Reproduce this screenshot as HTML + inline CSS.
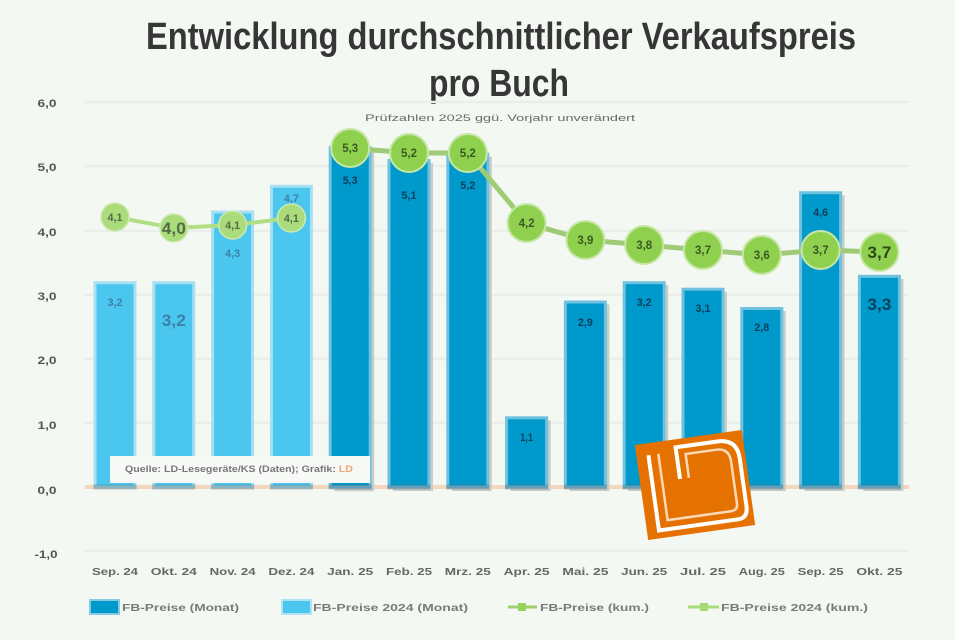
<!DOCTYPE html>
<html><head><meta charset="utf-8"><style>
html,body{margin:0;padding:0;background:#f4f8f3;}
svg{display:block;}
text{font-family:"Liberation Sans",sans-serif;}
</style></head><body>
<svg width="955" height="640" viewBox="0 0 955 640" xmlns="http://www.w3.org/2000/svg">
<rect width="955" height="640" fill="#f4f8f3"/>
<!-- title -->
<text x="501" y="49" font-size="38" font-weight="bold" fill="#363636" text-anchor="middle" textLength="710" lengthAdjust="spacingAndGlyphs">Entwicklung durchschnittlicher Verkaufspreis</text>
<text x="499" y="96" font-size="38" font-weight="bold" fill="#363636" text-anchor="middle" textLength="140" lengthAdjust="spacingAndGlyphs">pro Buch</text>
<!-- gridlines -->
<g stroke="#eaedea" stroke-width="2.5">
<line x1="85" y1="102" x2="909" y2="102"/>
<line x1="85" y1="166" x2="909" y2="166"/>
<line x1="85" y1="231" x2="909" y2="231"/>
<line x1="85" y1="295" x2="909" y2="295"/>
<line x1="85" y1="359" x2="909" y2="359"/>
<line x1="85" y1="423" x2="909" y2="423"/>
<line x1="85" y1="551" x2="909" y2="551"/>
</g>
<text x="500" y="121" font-size="9" fill="#6a6a6a" text-anchor="middle" textLength="270" lengthAdjust="spacingAndGlyphs">Prüfzahlen 2025 ggü. Vorjahr unverändert</text>
<!-- y labels -->
<g font-size="11" font-weight="bold" fill="#555" text-anchor="middle">
<text x="47" y="107" textLength="19" lengthAdjust="spacingAndGlyphs">6,0</text>
<text x="47" y="171" textLength="19" lengthAdjust="spacingAndGlyphs">5,0</text>
<text x="47" y="236" textLength="19" lengthAdjust="spacingAndGlyphs">4,0</text>
<text x="47" y="300" textLength="19" lengthAdjust="spacingAndGlyphs">3,0</text>
<text x="47" y="364" textLength="19" lengthAdjust="spacingAndGlyphs">2,0</text>
<text x="47" y="429" textLength="19" lengthAdjust="spacingAndGlyphs">1,0</text>
<text x="47" y="494" textLength="19" lengthAdjust="spacingAndGlyphs">0,0</text>
<text x="46" y="558" textLength="23" lengthAdjust="spacingAndGlyphs">-1,0</text>
</g>
<!-- zero line -->
<line x1="85" y1="487" x2="909" y2="487" stroke="#f3d6bd" stroke-width="4"/>
<!-- dark bar shadows -->
<g fill="#c9cdc8">
<rect x="334.2" y="150.2" width="40" height="341"/>
<rect x="393" y="163" width="40" height="328"/>
<rect x="451.8" y="156.6" width="40" height="334.4"/>
<rect x="510.6" y="420.3" width="40" height="70.7"/>
<rect x="569.4" y="304.5" width="40" height="186.5"/>
<rect x="628.2" y="285.2" width="40" height="205.8"/>
<rect x="687" y="291.7" width="40" height="199.3"/>
<rect x="745.8" y="311" width="40" height="180"/>
<rect x="804.6" y="195.2" width="40" height="295.8"/>
<rect x="863.4" y="278.8" width="40" height="212.2"/>
</g>
<!-- light bars -->
<g fill="#4bc7ef" stroke="#a9dff2" stroke-width="3">
<rect x="95" y="282.7" width="40" height="204.3"/>
<rect x="153.8" y="282.7" width="40" height="204.3"/>
<rect x="212.6" y="212" width="40" height="275"/>
<rect x="271.4" y="186.3" width="40" height="300.7"/>
</g>
<!-- dark bars -->
<g fill="#0099cc" stroke="#6fc1e0" stroke-width="3">
<rect x="330.2" y="147.7" width="40" height="339.3"/>
<rect x="389" y="160.5" width="40" height="326.5"/>
<rect x="447.8" y="154.1" width="40" height="332.9"/>
<rect x="506.6" y="417.8" width="40" height="69.2"/>
<rect x="565.4" y="302" width="40" height="185"/>
<rect x="624.2" y="282.7" width="40" height="204.3"/>
<rect x="683" y="289.2" width="40" height="197.8"/>
<rect x="741.8" y="308.5" width="40" height="178.5"/>
<rect x="800.6" y="192.7" width="40" height="294.3"/>
<rect x="859.4" y="276.3" width="40" height="210.7"/>
</g>
<!-- zero band over bars -->
<g fill="rgba(80,100,110,0.35)">
<rect x="93.5" y="484.5" width="43" height="5"/>
<rect x="152.3" y="484.5" width="43" height="5"/>
<rect x="211.1" y="484.5" width="43" height="5"/>
<rect x="269.9" y="484.5" width="43" height="5"/>
<rect x="328.7" y="484.5" width="43" height="5"/>
<rect x="387.5" y="484.5" width="43" height="5"/>
<rect x="446.3" y="484.5" width="43" height="5"/>
<rect x="505.1" y="484.5" width="43" height="5"/>
<rect x="563.9" y="484.5" width="43" height="5"/>
<rect x="622.7" y="484.5" width="43" height="5"/>
<rect x="681.5" y="484.5" width="43" height="5"/>
<rect x="740.3" y="484.5" width="43" height="5"/>
<rect x="799.1" y="484.5" width="43" height="5"/>
<rect x="857.9" y="484.5" width="43" height="5"/>
</g>
<!-- bar labels -->
<g font-size="11" font-weight="bold" text-anchor="middle" fill="#3b80a6">
<text x="115" y="306" textLength="15" lengthAdjust="spacingAndGlyphs">3,2</text>
<text x="232.6" y="257" textLength="15" lengthAdjust="spacingAndGlyphs">4,3</text>
<text x="291.4" y="202" textLength="15" lengthAdjust="spacingAndGlyphs">4,7</text>
</g>
<text x="173.8" y="326" font-size="17" font-weight="bold" text-anchor="middle" fill="#3b80a6" textLength="24" lengthAdjust="spacingAndGlyphs">3,2</text>
<g font-size="11" font-weight="bold" text-anchor="middle" fill="#0c3f5c">
<text x="350.2" y="184" textLength="15" lengthAdjust="spacingAndGlyphs">5,3</text>
<text x="409" y="199" textLength="15" lengthAdjust="spacingAndGlyphs">5,1</text>
<text x="467.8" y="189" textLength="15" lengthAdjust="spacingAndGlyphs">5,2</text>
<text x="526.6" y="441" textLength="13" lengthAdjust="spacingAndGlyphs">1,1</text>
<text x="585.4" y="326" textLength="15" lengthAdjust="spacingAndGlyphs">2,9</text>
<text x="644.2" y="306" textLength="15" lengthAdjust="spacingAndGlyphs">3,2</text>
<text x="703" y="312" textLength="15" lengthAdjust="spacingAndGlyphs">3,1</text>
<text x="761.8" y="331" textLength="15" lengthAdjust="spacingAndGlyphs">2,8</text>
<text x="820.6" y="216" textLength="15" lengthAdjust="spacingAndGlyphs">4,6</text>
</g>
<text x="879.4" y="310" font-size="17" font-weight="bold" text-anchor="middle" fill="#0c3f5c" textLength="24" lengthAdjust="spacingAndGlyphs">3,3</text>
<!-- lines -->
<polyline points="115,217 173.8,228 232.6,225 291.4,218" fill="none" stroke="#afdf82" stroke-width="4"/>
<polyline points="350.2,148 409,153 467.8,153 526.6,223 585.4,240 644.2,245 703,250 761.8,255 820.6,250 879.4,252" fill="none" stroke="#9fca76" stroke-width="5"/>
<!-- 2024 markers -->
<g fill="#abdc7c" stroke="#cdeab0" stroke-width="1.5">
<circle cx="115" cy="217" r="14"/>
<circle cx="173.8" cy="228" r="14"/>
<circle cx="232.6" cy="225" r="14"/>
<circle cx="291.4" cy="218" r="14"/>
</g>
<g font-size="11" font-weight="bold" text-anchor="middle" fill="#556a48">
<text x="115" y="221" textLength="15" lengthAdjust="spacingAndGlyphs">4,1</text>
<text x="232.6" y="229" textLength="15" lengthAdjust="spacingAndGlyphs">4,1</text>
<text x="291.4" y="222" textLength="15" lengthAdjust="spacingAndGlyphs">4,1</text>
</g>
<text x="173.8" y="234" font-size="17" font-weight="bold" text-anchor="middle" fill="#556a48" textLength="24" lengthAdjust="spacingAndGlyphs">4,0</text>
<!-- 2025 markers -->
<g fill="#8fd14f" stroke="#c6e7a6" stroke-width="2">
<circle cx="350.2" cy="148" r="19"/>
<circle cx="409" cy="153" r="19"/>
<circle cx="467.8" cy="153" r="19"/>
<circle cx="526.6" cy="223" r="19"/>
<circle cx="585.4" cy="240" r="19"/>
<circle cx="644.2" cy="245" r="19"/>
<circle cx="703" cy="250" r="19"/>
<circle cx="761.8" cy="255" r="19"/>
<circle cx="820.6" cy="250" r="19"/>
<circle cx="879.4" cy="252" r="19"/>
</g>
<g font-size="12" font-weight="bold" text-anchor="middle" fill="#3a5a22">
<text x="350.2" y="152" textLength="16" lengthAdjust="spacingAndGlyphs">5,3</text>
<text x="409" y="157" textLength="16" lengthAdjust="spacingAndGlyphs">5,2</text>
<text x="467.8" y="157" textLength="16" lengthAdjust="spacingAndGlyphs">5,2</text>
<text x="526.6" y="227" textLength="16" lengthAdjust="spacingAndGlyphs">4,2</text>
<text x="585.4" y="244" textLength="16" lengthAdjust="spacingAndGlyphs">3,9</text>
<text x="644.2" y="249" textLength="16" lengthAdjust="spacingAndGlyphs">3,8</text>
<text x="703" y="254" textLength="16" lengthAdjust="spacingAndGlyphs">3,7</text>
<text x="761.8" y="259" textLength="16" lengthAdjust="spacingAndGlyphs">3,6</text>
<text x="820.6" y="254" textLength="16" lengthAdjust="spacingAndGlyphs">3,7</text>
</g>
<text x="879.4" y="258" font-size="17" font-weight="bold" text-anchor="middle" fill="#2e4a1b" textLength="24" lengthAdjust="spacingAndGlyphs">3,7</text>
<!-- source box -->
<rect x="110" y="456" width="260" height="27" fill="#f6f9f6"/>
<text x="125" y="472" font-size="9.5" font-weight="bold" fill="#777" textLength="228" lengthAdjust="spacingAndGlyphs">Quelle: LD-Lesegeräte/KS (Daten); Grafik: <tspan fill="#f0a56a">LD</tspan></text>
<!-- logo -->
<g transform="translate(695,485) rotate(-8)">
<rect x="-54" y="-48" width="108" height="96" fill="#e57200"/>
<path d="M-42,-36 L-42,40 L38,40 Q48,40 48,28 L48,-20 Q48,-40 28,-40 L-14,-40 L-14,-8" fill="none" stroke="#ffffff" stroke-width="4"/>
<path d="M-32,-36 L-32,31 L32,31 Q39,31 39,24 L39,-18 Q39,-32 26,-32 L-5,-32 L-5,-8" fill="none" stroke="#fbd9b8" stroke-width="2.5"/>
</g>
<!-- x labels -->
<g font-size="10" font-weight="bold" fill="#666" text-anchor="middle">
<text x="115" y="575" textLength="46" lengthAdjust="spacingAndGlyphs">Sep. 24</text>
<text x="173.8" y="575" textLength="46" lengthAdjust="spacingAndGlyphs">Okt. 24</text>
<text x="232.6" y="575" textLength="46" lengthAdjust="spacingAndGlyphs">Nov. 24</text>
<text x="291.4" y="575" textLength="46" lengthAdjust="spacingAndGlyphs">Dez. 24</text>
<text x="350.2" y="575" textLength="46" lengthAdjust="spacingAndGlyphs">Jan. 25</text>
<text x="409" y="575" textLength="46" lengthAdjust="spacingAndGlyphs">Feb. 25</text>
<text x="467.8" y="575" textLength="46" lengthAdjust="spacingAndGlyphs">Mrz. 25</text>
<text x="526.6" y="575" textLength="46" lengthAdjust="spacingAndGlyphs">Apr. 25</text>
<text x="585.4" y="575" textLength="46" lengthAdjust="spacingAndGlyphs">Mai. 25</text>
<text x="644.2" y="575" textLength="46" lengthAdjust="spacingAndGlyphs">Jun. 25</text>
<text x="703" y="575" textLength="46" lengthAdjust="spacingAndGlyphs">Jul. 25</text>
<text x="761.8" y="575" textLength="46" lengthAdjust="spacingAndGlyphs">Aug. 25</text>
<text x="820.6" y="575" textLength="46" lengthAdjust="spacingAndGlyphs">Sep. 25</text>
<text x="879.4" y="575" textLength="46" lengthAdjust="spacingAndGlyphs">Okt. 25</text>
</g>
<!-- legend -->
<rect x="90" y="600" width="29" height="14" fill="#0099cc" stroke="#86cbe4" stroke-width="2"/>
<text x="122" y="611" font-size="10" font-weight="bold" fill="#7a7a7a" textLength="117" lengthAdjust="spacingAndGlyphs">FB-Preise (Monat)</text>
<rect x="282" y="600" width="29" height="14" fill="#4bc7ef" stroke="#b0e2f3" stroke-width="2"/>
<text x="313" y="611" font-size="10" font-weight="bold" fill="#7a7a7a" textLength="155" lengthAdjust="spacingAndGlyphs">FB-Preise 2024 (Monat)</text>
<line x1="508" y1="607" x2="537" y2="607" stroke="#9fcf6e" stroke-width="3"/>
<rect x="518" y="603" width="8" height="8" fill="#9ad05e"/>
<text x="540" y="611" font-size="10" font-weight="bold" fill="#7a7a7a" textLength="109" lengthAdjust="spacingAndGlyphs">FB-Preise (kum.)</text>
<line x1="688" y1="607" x2="719" y2="607" stroke="#a9dc78" stroke-width="3"/>
<rect x="700" y="603" width="8" height="8" fill="#a6da74"/>
<text x="721" y="611" font-size="10" font-weight="bold" fill="#7a7a7a" textLength="147" lengthAdjust="spacingAndGlyphs">FB-Preise 2024 (kum.)</text>
</svg>
</body></html>
